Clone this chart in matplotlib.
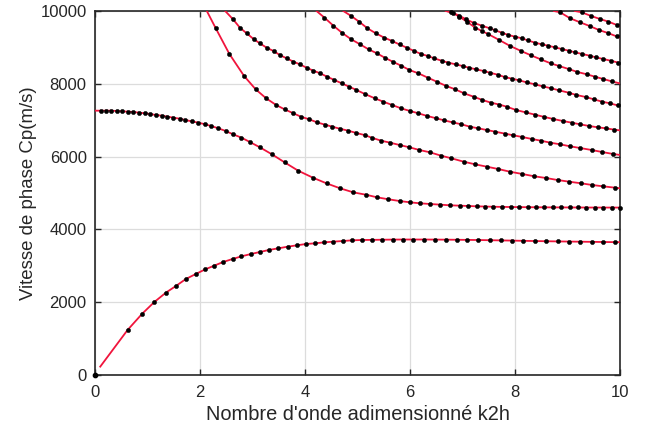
import matplotlib
matplotlib.use("Agg")
import matplotlib.pyplot as plt

# ---------------- data ----------------
# mode 1
m1_k = [0.62, 0.90, 1.13, 1.35, 1.55, 1.73, 1.92, 2.10, 2.27, 2.44, 2.62, 2.79, 2.97, 3.14, 3.31,
        3.49, 3.67, 3.84, 4.02, 4.19, 4.37, 4.54, 4.72, 4.90, 5.08, 5.27, 5.46, 5.67, 5.87, 6.06,
        6.27, 6.48, 6.69, 6.89, 7.09, 7.30, 7.52, 7.73, 7.95, 8.16, 8.38, 8.59, 8.81, 9.03, 9.24,
        9.46, 9.67, 9.90]
m1_c = [1236, 1685, 2005, 2262, 2454, 2637, 2775, 2903, 3003, 3104, 3187, 3260, 3324, 3379, 3434,
        3480, 3525, 3562, 3599, 3617, 3645, 3663, 3681, 3700, 3709, 3712, 3716, 3720, 3722, 3722,
        3722, 3720, 3718, 3715, 3712, 3708, 3703, 3698, 3692, 3686, 3680, 3675, 3670, 3666, 3662,
        3658, 3654, 3650]
m1_start, m1_end = (0.10, 230), (10.0, 3649)
m1_extra_dot = (0.0, 0)

# mode 2
m2_k = [0.11, 0.21, 0.31, 0.41, 0.52, 0.62, 0.73, 0.84, 0.95, 1.05, 1.16, 1.27, 1.38, 1.49, 1.61,
        1.72, 1.84, 1.97, 2.10, 2.21, 2.35, 2.49, 2.63, 2.79, 2.95, 3.14, 3.37, 3.61, 3.87, 4.15,
        4.41, 4.67, 4.92, 5.17, 5.37, 5.59, 5.80, 6.00, 6.19, 6.38, 6.57, 6.76, 6.95, 7.11, 7.27,
        7.43, 7.59, 7.75, 7.92, 8.08, 8.24, 8.40, 8.56, 8.72, 8.88, 9.04, 9.20, 9.36, 9.52, 9.68,
        9.84, 10.0]
m2_c = [7261, 7261, 7261, 7253, 7244, 7235, 7225, 7207, 7189, 7170, 7143, 7125, 7097, 7070, 7042,
        7005, 6969, 6932, 6887, 6841, 6777, 6703, 6612, 6520, 6401, 6255, 6063, 5843, 5613, 5421,
        5265, 5128, 5018, 4950, 4882, 4827, 4780, 4744, 4717, 4698, 4680, 4662, 4652, 4643, 4634,
        4628, 4622, 4618, 4615, 4612, 4610, 4608, 4606, 4605, 4604, 4603, 4602, 4601, 4600, 4600,
        4600, 4600]
m2_start, m2_end = (0.0, 7262), None

# mode 3
m3_k = [2.30, 2.56, 2.84, 3.06, 3.26, 3.45, 3.61, 3.78, 3.92, 4.08, 4.23, 4.38, 4.52, 4.66, 4.82,
        4.98, 5.14, 5.27, 5.45, 5.62, 5.80, 5.99, 6.18, 6.38, 6.59, 6.79, 7.02, 7.24, 7.46, 7.68,
        7.90, 8.14, 8.37, 8.59, 8.81, 9.03, 9.26, 9.47, 9.68, 9.90]
m3_c = [9525, 8819, 8214, 7849, 7601, 7418, 7299, 7189, 7097, 7024, 6941, 6877, 6822, 6767, 6713,
        6648, 6590, 6520, 6437, 6383, 6319, 6255, 6181, 6118, 6026, 5953, 5861, 5788, 5724, 5659,
        5586, 5522, 5458, 5412, 5357, 5311, 5266, 5220, 5183, 5147]
m3_start, m3_end = (2.13, 10000), (10.0, 5130)

# mode 4
m4_k = [2.63, 2.76, 2.89, 3.02, 3.14, 3.27, 3.40, 3.52, 3.65, 3.78, 3.90, 4.03, 4.16, 4.29, 4.42,
        4.56, 4.70, 4.84, 4.98, 5.14, 5.33, 5.49, 5.66, 5.83, 6.00, 6.16, 6.33, 6.50, 6.65, 6.81,
        6.98, 7.14, 7.30, 7.46, 7.62, 7.81, 7.97, 8.14, 8.32, 8.49, 8.67, 8.86, 9.05, 9.24, 9.46,
        9.66, 9.87]
m4_c = [9771, 9542, 9386, 9231, 9111, 8992, 8901, 8791, 8700, 8608, 8535, 8443, 8360, 8287, 8196,
        8104, 8013, 7921, 7830, 7720, 7601, 7509, 7418, 7326, 7253, 7189, 7115, 7052, 6996, 6941,
        6887, 6822, 6777, 6731, 6685, 6630, 6584, 6538, 6484, 6438, 6383, 6337, 6282, 6236, 6181,
        6126, 6071]
m4_start, m4_end = (2.48, 10000), (10.0, 6045)

# mode 5
m5_k = [4.37, 4.54, 4.71, 4.88, 5.05, 5.21, 5.37, 5.52, 5.67, 5.83, 5.99, 6.16, 6.34, 6.51, 6.69,
        6.86, 7.03, 7.21, 7.38, 7.54, 7.70, 7.84, 8.02, 8.20, 8.38, 8.56, 8.73, 8.91, 9.08, 9.24,
        9.41, 9.58, 9.73, 9.89]
m5_c = [9817, 9597, 9396, 9222, 9084, 8947, 8837, 8717, 8608, 8498, 8379, 8287, 8168, 8058, 7940,
        7849, 7738, 7646, 7555, 7482, 7430, 7372, 7280, 7216, 7152, 7088, 7033, 6978, 6932, 6887,
        6841, 6804, 6777, 6740]
m5_start, m5_end = (4.22, 10000), (10.0, 6720)

# mode 6
m6_k = [4.88, 5.03, 5.19, 5.35, 5.51, 5.66, 5.80, 5.94, 6.08, 6.21, 6.34, 6.46, 6.60, 6.73, 6.87,
        7.00, 7.12, 7.26, 7.40, 7.52, 7.67, 7.80, 7.94, 8.08, 8.22, 8.38, 8.53, 8.69, 8.84, 9.02,
        9.17, 9.35, 9.50, 9.66, 9.81, 9.96]
m6_c = [9863, 9707, 9524, 9386, 9267, 9176, 9080, 8992, 8901, 8819, 8764, 8700, 8635, 8580, 8535,
        8489, 8443, 8397, 8352, 8305, 8250, 8187, 8141, 8095, 8040, 7985, 7930, 7876, 7821, 7756,
        7692, 7637, 7573, 7509, 7463, 7405]
m6_start, m6_end = (4.73, 10000), (10.0, 7395)

# mode 7
m7_k = [6.79, 6.94, 7.09, 7.24, 7.37, 7.49, 7.70, 7.90, 8.11, 8.30, 8.49, 8.68, 8.84, 9.02, 9.19,
        9.37, 9.52, 9.68, 9.84]
m7_c = [9964, 9844, 9700, 9545, 9450, 9365, 9203, 9045, 8905, 8785, 8672, 8562, 8489, 8407, 8324,
        8260, 8196, 8132, 8068]
m7_start, m7_end = (6.68, 10000), (10.0, 8010)

# mode 8
m8_k = [6.82, 6.94, 7.07, 7.21, 7.37, 7.52, 7.62, 7.75, 7.87, 8.00, 8.13, 8.25, 8.38, 8.51, 8.63,
        8.76, 8.89, 9.02, 9.14, 9.28, 9.42, 9.54, 9.68, 9.82, 9.96]
m8_c = [9950, 9870, 9772, 9675, 9596, 9524, 9470, 9405, 9341, 9295, 9250, 9190, 9130, 9084, 9047,
        9001, 8956, 8910, 8865, 8819, 8773, 8727, 8681, 8635, 8585]
m8_start, m8_end = (6.70, 10000), (10.0, 8575)

# mode 9
m9_k = [8.86, 9.05, 9.24, 9.42, 9.60, 9.78, 9.94]
m9_c = [9964, 9799, 9689, 9588, 9478, 9390, 9300]
m9_start, m9_end = (8.74, 10000), (10.0, 9270)

# mode 10
m10_k = [9.27, 9.45, 9.62, 9.78, 9.94]
m10_c = [9964, 9863, 9780, 9707, 9615]
m10_start, m10_end = (9.14, 10000), (10.0, 9590)

x_ticks = [0, 2, 4, 6, 8, 10]
y_ticks = [0, 2000, 4000, 6000, 8000, 10000]
x_label = "Nombre d'onde adimensionné k2h"
y_label = "Vitesse de phase Cp(m/s)"

# ---------------- plotting ----------------
plt.rcParams['font.family'] = ['Liberation Sans', 'DejaVu Sans']
TXT = '#262626'
RED = '#f0143c'

fig = plt.figure(figsize=(6.48, 4.32), dpi=100)
ax = fig.add_axes([95 / 648, 1 - 375 / 432, 525 / 648, 364 / 432])

modes = [
    (m1_k, m1_c, m1_start, m1_end),
    (m2_k, m2_c, m2_start, m2_end),
    (m3_k, m3_c, m3_start, m3_end),
    (m4_k, m4_c, m4_start, m4_end),
    (m5_k, m5_c, m5_start, m5_end),
    (m6_k, m6_c, m6_start, m6_end),
    (m7_k, m7_c, m7_start, m7_end),
    (m8_k, m8_c, m8_start, m8_end),
    (m9_k, m9_c, m9_start, m9_end),
    (m10_k, m10_c, m10_start, m10_end),
]

for k, c, s, e in modes:
    lk, lc = list(k), list(c)
    if s is not None:
        lk = [s[0]] + lk
        lc = [s[1]] + lc
    if e is not None:
        lk = lk + [e[0]]
        lc = lc + [e[1]]
    ax.plot(lk, lc, color=RED, lw=1.3, zorder=3, clip_on=True)

for k, c, s, e in modes:
    ax.plot(k, c, linestyle='none', marker='o', ms=3.1, mfc='black', mec='black',
            mew=0.3, zorder=4, clip_on=False)
ax.plot([m1_extra_dot[0]], [m1_extra_dot[1]], linestyle='none', marker='o', ms=3.1,
        mfc='black', mec='black', zorder=5, clip_on=False)

ax.set_xlim(0, 10)
ax.set_ylim(0, 10000)
ax.set_xticks(x_ticks)
ax.set_yticks(y_ticks)
ax.set_xticklabels([str(t) for t in x_ticks])
ax.set_yticklabels([str(t) for t in y_ticks])

ax.grid(True, color='#dcdcdc', lw=0.9, zorder=0)
ax.set_axisbelow(True)
for sp in ax.spines.values():
    sp.set_color(TXT)
    sp.set_linewidth(1.2)
ax.tick_params(direction='in', length=4, width=1.0, colors=TXT, labelsize=12,
               top=True, right=True)
ax.tick_params(axis='x', pad=7)
ax.tick_params(axis='y', pad=6)
ax.set_xlabel(x_label, fontsize=14.4, color=TXT, labelpad=4)
ax.set_ylabel(y_label, fontsize=13.4, color=TXT, labelpad=2.5)

fig.savefig('out.png', dpi=100)
